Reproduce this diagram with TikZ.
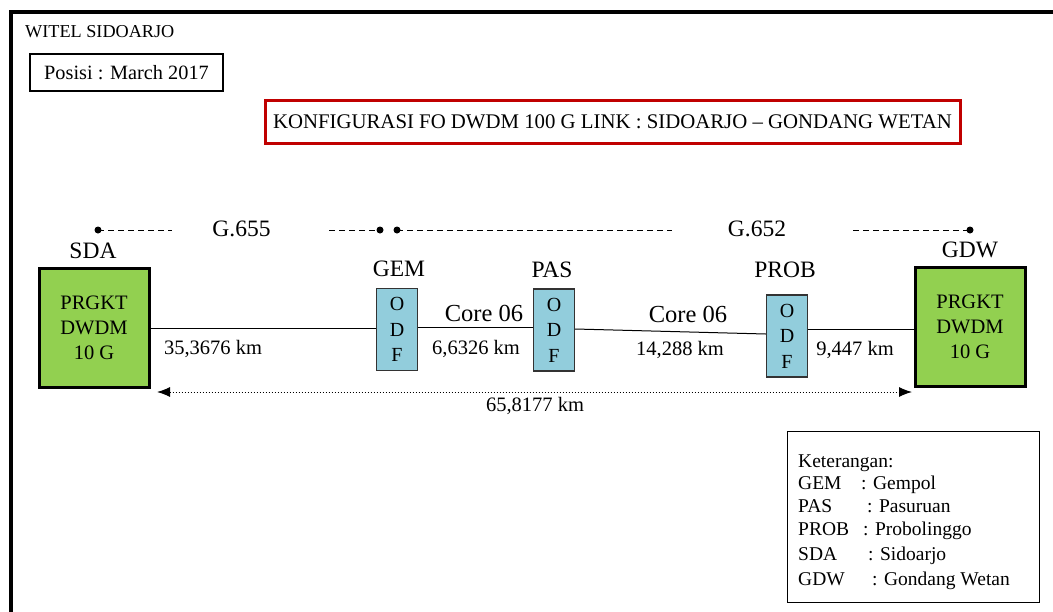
\documentclass[tikz,border=0pt]{standalone}
\usepackage{fontspec}
\setmainfont{Liberation Serif}
\usetikzlibrary{arrows.meta}
\definecolor{titlered}{HTML}{C00000}
\definecolor{boxgreen}{HTML}{92D050}
\definecolor{odfblue}{HTML}{92CDDC}
\tikzset{
  lbl/.style={inner sep=0pt, font=\fontsize{23.5}{26}\selectfont},
  corelbl/.style={inner sep=0pt, font=\fontsize{24.5}{27}\selectfont},
  dist/.style={inner sep=0pt, font=\fontsize{20.5}{23}\selectfont},
  greenbox/.style={draw, line width=3pt, fill=boxgreen, minimum width=110pt, minimum height=119pt, inner sep=0pt, align=center, font=\fontsize{20.5}{25}\selectfont},
  odfbox/.style={draw=black!80, line width=1.3pt, fill=odfblue, minimum width=41pt, minimum height=82pt, inner sep=0pt, align=center, font=\fontsize{20}{25.5}\selectfont},
  fiber/.style={line width=1pt},
  guide/.style={line width=1pt, dash pattern=on 6pt off 4pt},
  dotmark/.style={circle, fill=black, inner sep=0pt, minimum size=7pt},
  legtext/.style={inner sep=0pt, anchor=base west, font=\fontsize{19.5}{21}\selectfont}
}
\begin{document}
\begin{tikzpicture}[x=1pt,y=-1pt]
\useasboundingbox (0,0) rectangle (1053,611);
\clip (0,0) rectangle (1053,611);
\fill[white] (0,0) rectangle (1053,611);
% outer frame
\draw[line width=4pt] (11,640) -- (11,12) -- (1080,12);

\node[inner sep=0pt, anchor=west, font=\fontsize{18.2}{20}\selectfont] (witel) at (25,32) {WITEL SIDOARJO};
\node[draw, line width=2pt, minimum width=193pt, minimum height=37pt, inner sep=0pt, font=\fontsize{20.3}{22}\selectfont] (posisi) at (126.5,72.5) {Posisi : March 2017};
\node[draw=titlered, line width=3pt, minimum width=695pt, minimum height=43pt, inner sep=0pt, font=\fontsize{20.8}{22}\selectfont] (title) at (612.5,121.5) {KONFIGURASI FO DWDM 100 G LINK : SIDOARJO -- GONDANG WETAN};

% guide row
\node[dotmark] (d1) at (98,230) {};
\node[dotmark] (d2) at (380,230) {};
\node[dotmark] (d3) at (397,230) {};
\node[dotmark] (d4) at (970,230) {};
\coordinate (g1e) at (172,230);
\coordinate (g2s) at (329,230);
\coordinate (g3e) at (672,230);
\coordinate (g4s) at (853,230);
\draw[guide] (d1.center) -- (g1e);
\draw[guide] (g2s) -- (d2.center);
\draw[guide] (d3.center) -- (g3e);
\draw[guide] (g4s) -- (d4.center);
\node[lbl] (g655) at (241.5,229) {G.655};
\node[lbl] (g652) at (757,229) {G.652};

% main boxes
\node[greenbox] (sda) at (94,327.5) {PRGKT\\DWDM\\10 G};
\node[greenbox] (gdw) at (970,326.5) {PRGKT\\DWDM\\10 G};
\node[lbl] (sdalbl) at (93,251) {SDA};
\node[lbl] (gdwlbl) at (970,250) {GDW};

\node[odfbox] (gem) at (397,329.5) {O\\D\\F};
\node[odfbox] (pas) at (554,330) {O\\D\\F};
\node[odfbox] (prob) at (787,336) {O\\D\\F};
\node[lbl] (gemlbl) at (399,269) {GEM};
\node[lbl] (paslbl) at (552,270) {PAS};
\node[lbl] (problbl) at (785,270) {PROB};

% fibres
\draw[fiber] (sda.east |- 0,328) -- (gem.west |- 0,328);
\draw[fiber] (gem.east |- 0,327) -- (pas.west |- 0,327);
\draw[fiber] (pas.east |- 0,329) -- (prob.west |- 0,334);
\draw[fiber] (prob.east |- 0,329) -- (gdw.west |- 0,329);

\node[corelbl] (core1) at (484,313) {Core 06};
\node[corelbl] (core2) at (688,314) {Core 06};
\node[dist] (l1) at (213,349) {35,3676 km};
\node[dist] (l2) at (476,349) {6,6326 km};
\node[dist] (l3) at (680,350) {14,288 km};
\node[dist] (l4) at (855,350) {9,447 km};

% total distance
\coordinate (tl) at (157,392);
\coordinate (tr) at (912,392);
\draw[line width=1pt, dotted, {Latex[length=13pt,width=10pt]}-{Latex[length=13pt,width=10pt]}] (tl) -- (tr);
\node[dist] (total) at (535,406) {65,8177 km};

% legend
\node[draw, line width=1.3pt, minimum width=252pt, minimum height=171pt, anchor=north west, inner sep=0pt] (legend) at (787,431) {};
\node[legtext] (k0) at (798,467) {Keterangan:};
\node[legtext] (k1) at (798,489) {GEM};
\node[legtext] (k2) at (798,512) {PAS};
\node[legtext] (k3) at (798,535) {PROB};
\node[legtext] (k4) at (798,560) {SDA};
\node[legtext] (k5) at (798,585) {GDW};
\node[legtext] (v1) at (861,489) {: Gempol};
\node[legtext] (v2) at (867,512) {: Pasuruan};
\node[legtext] (v3) at (863,535) {: Probolinggo};
\node[legtext] (v4) at (868,560) {: Sidoarjo};
\node[legtext] (v5) at (872,585) {: Gondang Wetan};
\end{tikzpicture}
\end{document}
